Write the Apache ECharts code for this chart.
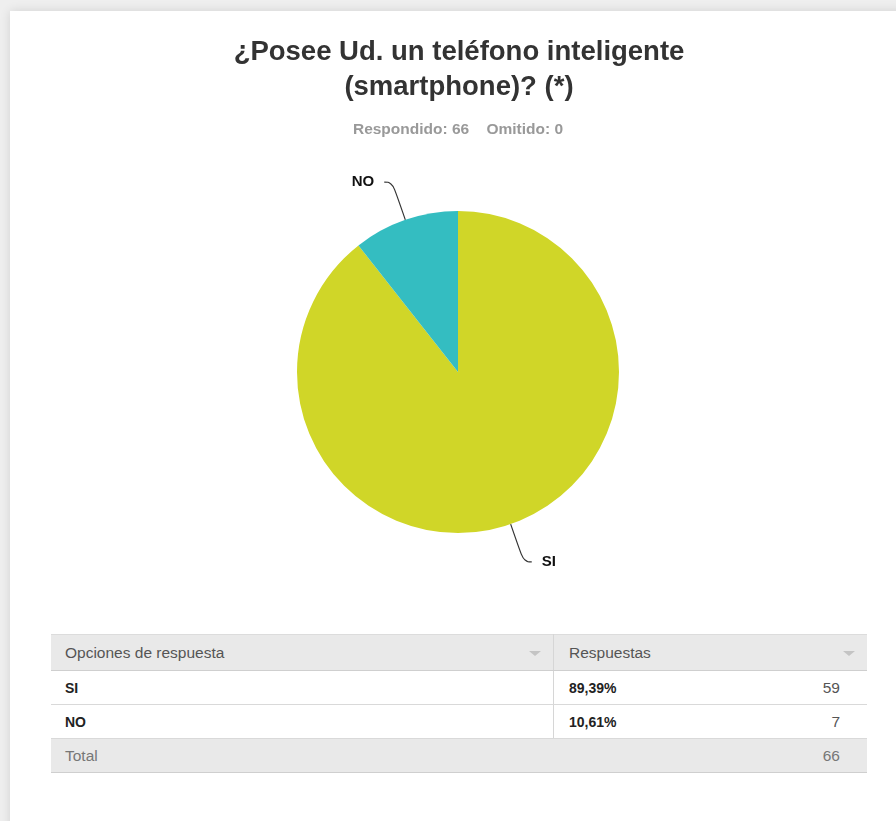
<!DOCTYPE html>
<html>
<head>
<meta charset="utf-8">
<script src="https://cdn.jsdelivr.net/npm/echarts@6/dist/echarts.min.js"></script>
<style>
  html, body { margin: 0; padding: 0; width: 896px; height: 821px; overflow: hidden;
    background: #efefef; font-family: "Liberation Sans", Arial, sans-serif; }
  #card { position: absolute; left: 10px; top: 11px; width: 900px; height: 830px;
    background: #fff; box-shadow: 0 0 10px rgba(0,0,0,0.12); }
  #chart { position: absolute; left: 0; top: 0; width: 896px; height: 610px; }
  #tbl { position: absolute; left: 51px; top: 634px; width: 816px; border-collapse: collapse;
    font-size: 15.5px; color: #333; }
  #tbl td { height: 33px; padding: 0; border-bottom: 1px solid #d9d9d9; position: relative; }
  #tbl tr.head td, #tbl tr.foot td { background: #e9e9e9; color: #555; }
  #tbl tr.head td { border-top: 1px solid #dcdcdc; height: 35px; border-bottom: 1px solid #cfcfcf; }
  #tbl tr.foot td { border-bottom: 1px solid #cfcfcf; color: #777; }
  #tbl td.c1 { width: 488px; padding-left: 14px; border-right: 1px solid #d6d6d6; }
  #tbl tr.foot td.c1 { border-right: none; }
  #tbl td.c2 { padding-left: 15px; }
  #tbl td.num { text-align: right; padding-right: 27px; color: #555; }
  #tbl tr.foot td.num { color: #777; }
  .b { font-weight: bold; font-size: 14px; color: #222; }
  .arrow { position: absolute; right: 12px; top: 16px; width: 0; height: 0;
    border-left: 6px solid transparent; border-right: 6px solid transparent; border-top: 5px solid #c4c4c4; }
</style>
</head>
<body>
<div id="card"></div>
<div id="chart"></div>
<table id="tbl"></table>
<script>
// Survey question and answers
const titleText = '¿Posee Ud. un teléfono inteligente\n(smartphone)? (*)';
const answered = 66;
const skipped = 0;
const categories = ['SI', 'NO'];
const counts = [59, 7];
const colors = ['#d0d628', '#34bdc1'];
const headers = ['Opciones de respuesta', 'Respuestas'];
const totalLabel = 'Total';

const total = counts.reduce((a, b) => a + b, 0);
const pct = v => (v / total * 100).toFixed(2).replace('.', ',') + '%';
const FONT = '"Liberation Sans", Arial, sans-serif';

const chart = echarts.init(document.getElementById('chart'));
chart.setOption({
  animation: false,
  title: [{
    text: titleText,
    left: 454, top: 30, textAlign: 'center',
    textStyle: { fontSize: 27.5, fontWeight: 'bold', color: '#333', lineHeight: 35,
      fontFamily: FONT }
  }, {
    text: 'Respondido: ' + answered + '    Omitido: ' + skipped,
    left: 453, top: 117, textAlign: 'center',
    textStyle: { fontSize: 15.5, fontWeight: 'bold', color: '#999', fontFamily: FONT }
  }],
  series: [{
    type: 'pie',
    center: [458, 372],
    radius: [0, 161],
    startAngle: 90,
    clockwise: true,
    data: categories.map((c, i) => ({ name: c, value: counts[i], itemStyle: { color: colors[i] } })),
    label: { show: true, formatter: '{b}', color: '#111', fontWeight: 'bold', fontSize: 15,
      fontFamily: FONT, distanceToLabelLine: 10 },
    labelLine: { show: true, length: 40, length2: 8, smooth: 0.5,
      lineStyle: { color: '#333', width: 1.2 } },
    emphasis: { disabled: true }
  }]
});

// Response table
const tbl = document.getElementById('tbl');
let html = '<tr class="head"><td class="c1">' + headers[0] + '<span class="arrow"></span></td>' +
  '<td class="c2" colspan="2">' + headers[1] + '<span class="arrow"></span></td></tr>';
categories.forEach((c, i) => {
  html += '<tr><td class="c1 b">' + c + '</td><td class="c2 b">' + pct(counts[i]) +
    '</td><td class="num">' + counts[i] + '</td></tr>';
});
html += '<tr class="foot"><td class="c1">' + totalLabel + '</td><td class="c2"></td><td class="num">' + total + '</td></tr>';
tbl.innerHTML = html;
</script>
</body>
</html>
